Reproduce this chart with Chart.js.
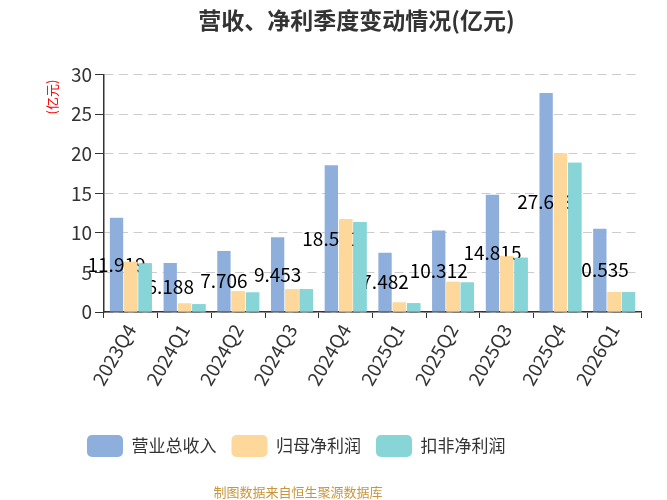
<!DOCTYPE html>
<html>
<head>
<meta charset="utf-8">
<script src="https://cdn.jsdelivr.net/npm/chart.js@4/dist/chart.umd.min.js"></script>
<style>
  body { margin: 0; background: #fff; }
  #wrap { position: relative; width: 667px; height: 500px; }
  #footer {
    position: absolute; left: 0; top: 483px; width: 596px;
    text-align: center; font: 13px "Noto Sans CJK SC", sans-serif;
    line-height: 18px; color: #C8963C;
  }
</style>
</head>
<body>
<div id="wrap">
  <canvas id="chart" width="667" height="500"></canvas>
  <div id="footer">制图数据来自恒生聚源数据库</div>
</div>
<script>
// ---------- Data (亿元) ----------
const quarters = ['2023Q4', '2024Q1', '2024Q2', '2024Q3', '2024Q4', '2025Q1', '2025Q2', '2025Q3', '2025Q4', '2026Q1'];
const revenue = [11.919, 6.188, 7.706, 9.453, 18.551, 7.482, 10.312, 14.815, 27.689, 10.535];
const netProfit = [6.35, 1.07, 2.63, 2.88, 11.74, 1.19, 3.81, 7.04, 20.04, 2.54];
const netProfitDeducted = [6.15, 0.98, 2.46, 2.88, 11.36, 1.10, 3.73, 6.86, 18.86, 2.51];
const yTicks = [0, 5, 10, 15, 20, 25, 30];

const FONT = '"Noto Sans CJK SC", "Noto Sans", sans-serif';

// 营收标签画在柱子中间，然后让后两组柱子盖在上面（和原图一样）
const barLabels = {
  id: 'barLabels',
  afterDatasetsDraw(chart) {
    const ctx = chart.ctx;
    const meta = chart.getDatasetMeta(0);
    ctx.save();
    ctx.font = '19px ' + FONT;
    ctx.fillStyle = '#000';
    ctx.textAlign = 'center';
    ctx.textBaseline = 'middle';
    meta.data.forEach((bar, i) => {
      ctx.fillText(revenue[i].toFixed(3), bar.x, (bar.y + bar.base) / 2);
    });
    ctx.restore();
    [1, 2].forEach(i => chart.getDatasetMeta(i).controller.draw());
  },
  afterDraw(chart) {
    const ctx = chart.ctx;
    ctx.save();
    ctx.translate(52, 97);
    ctx.rotate(-Math.PI / 2);
    ctx.font = '13px ' + FONT;
    ctx.fillStyle = '#ff0000';
    ctx.textAlign = 'center';
    ctx.textBaseline = 'middle';
    ctx.fillText('(亿元)', 0, 0);
    ctx.restore();
  },
};

new Chart(document.getElementById('chart'), {
  type: 'bar',
  data: {
    labels: quarters,
    datasets: [
      { label: '营业总收入', data: revenue, backgroundColor: '#8EAEDC' },
      { label: '归母净利润', data: netProfit, backgroundColor: '#FDD89A' },
      { label: '扣非净利润', data: netProfitDeducted, backgroundColor: '#88D5D8' },
    ],
  },
  options: {
    responsive: false,
    animation: false,
    datasets: { bar: { categoryPercentage: 0.8, barPercentage: 0.93 } },
    layout: { padding: { left: 72, right: 26, top: 0, bottom: 33 } },
    plugins: {
      title: {
        display: true,
        text: '营收、净利季度变动情况(亿元)',
        color: '#333',
        font: { family: FONT, size: 23, weight: 'bold' },
        padding: { top: 6, bottom: 41 },
      },
      legend: {
        position: 'bottom',
        align: 'start',
        labels: {
          boxWidth: 36,
          boxHeight: 22,
          useBorderRadius: true,
          borderRadius: 5,
          padding: 15,
          color: '#333',
          font: { family: FONT, size: 17 },
        },
      },
      tooltip: { enabled: false },
    },
    scales: {
      x: {
        afterFit: (s) => { s.height = 108; },
        grid: { drawOnChartArea: false, tickLength: 6, tickColor: '#333' },
        border: { color: '#333', width: 1.5 },
        ticks: {
          color: '#333',
          font: { family: FONT, size: 19 },
          minRotation: 60,
          maxRotation: 60,
          autoSkip: false,
          padding: 2,
        },
      },
      y: {
        min: 0,
        max: 30,
        afterFit: (s) => { s.width = 32; },
        afterBuildTicks: (s) => { s.ticks = yTicks.map(v => ({ value: v })); },
        grid: { color: '#ccc', tickColor: '#333', tickLength: 9 },
        border: { color: '#333', width: 1.5, dash: [9, 5.5] },
        ticks: { color: '#333', font: { family: FONT, size: 19 }, padding: 3 },
      },
    },
  },
  plugins: [barLabels],
});
</script>
</body>
</html>
